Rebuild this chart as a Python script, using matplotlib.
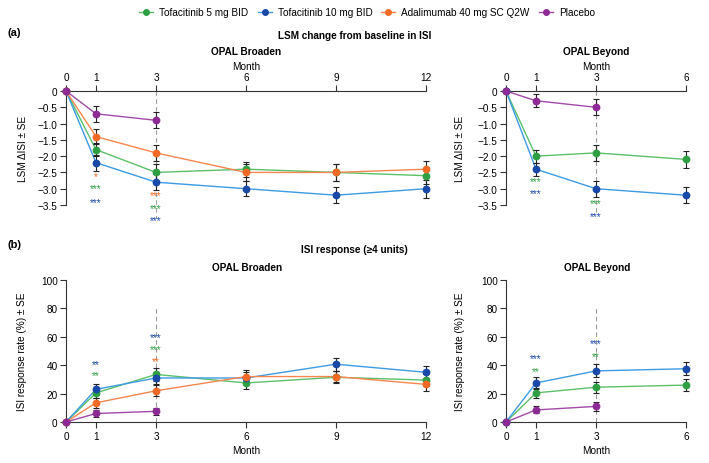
import matplotlib
matplotlib.use('Agg')
import matplotlib.pyplot as plt
from matplotlib.lines import Line2D

plt.rcParams['font.family'] = ['Liberation Sans', 'DejaVu Sans']
plt.rcParams['font.size'] = 7.2

# colours: marker / line
GREEN = '#2ea043'
GREEN_L = '#5cc06a'
BLUE = '#1848a8'
BLUE_L = '#3d9be3'
ORANGE = '#f26a26'
ORANGE_L = '#f7864d'
PURPLE = '#8e2a95'
PURPLE_L = '#a24aa8'

names = ['Tofacitinib 5 mg BID', 'Tofacitinib 10 mg BID', 'Adalimumab 40 mg SC Q2W', 'Placebo']

# (a) LSM change from baseline in ISI - OPAL Broaden
broaden_months = [0, 1, 3, 6, 9, 12]
broaden_pbo_months = [0, 1, 3]
lsm_b_t5 = [0, -1.8, -2.5, -2.4, -2.5, -2.6]
lsm_b_t5_se = [0, 0.2, 0.25, 0.23, 0.25, 0.25]
lsm_b_t10 = [0, -2.2, -2.8, -3.0, -3.2, -3.0]
lsm_b_t10_se = [0, 0.25, 0.25, 0.23, 0.25, 0.27]
lsm_b_ada = [0, -1.4, -1.9, -2.5, -2.5, -2.4]
lsm_b_ada_se = [0, 0.22, 0.25, 0.25, 0.25, 0.25]
lsm_b_pbo = [0, -0.7, -0.9]
lsm_b_pbo_se = [0, 0.25, 0.25]

# (a) OPAL Beyond
beyond_months = [0, 1, 3, 6]
beyond_pbo_months = [0, 1, 3]
lsm_y_t5 = [0, -2.0, -1.9, -2.1]
lsm_y_t5_se = [0, 0.2, 0.25, 0.25]
lsm_y_t10 = [0, -2.4, -3.0, -3.2]
lsm_y_t10_se = [0, 0.2, 0.25, 0.25]
lsm_y_pbo = [0, -0.3, -0.5]
lsm_y_pbo_se = [0, 0.2, 0.25]

# (b) ISI response rate (%) - OPAL Broaden
isi_b_t5 = [0, 20.5, 33.5, 27.5, 31.5, 29.5]
isi_b_t5_se = [0, 3.5, 4.5, 4.2, 4.2, 4.2]
isi_b_t10 = [0, 23, 31, 31, 40.7, 35]
isi_b_t10_se = [0, 4, 4.5, 4.5, 4.5, 4.5]
isi_b_ada = [0, 13.5, 22, 32, 32, 26.5]
isi_b_ada_se = [0, 3.5, 4, 4.5, 4, 4.5]
isi_b_pbo = [0, 6, 7.5]
isi_b_pbo_se = [0, 2.5, 2.5]

# (b) OPAL Beyond
isi_y_t5 = [0, 20.5, 24.5, 26]
isi_y_t5_se = [0, 3.5, 4, 4]
isi_y_t10 = [0, 27.5, 36, 37.5]
isi_y_t10_se = [0, 4.5, 4.5, 4.5]
isi_y_pbo = [0, 8.5, 11]
isi_y_pbo_se = [0, 2.5, 3]

# significance stars: (month, y, text, colour)
stars_a_broaden = [(1, -2.6, '*', ORANGE), (1, -2.98, '***', GREEN), (1, -3.4, '***', BLUE),
                   (3, -3.19, '***', ORANGE), (3, -3.59, '***', GREEN), (3, -3.96, '***', BLUE)]
stars_a_beyond = [(1, -2.76, '***', GREEN), (1, -3.13, '***', BLUE),
                  (3, -3.44, '***', GREEN), (3, -3.83, '***', BLUE)]
stars_b_broaden = [(1, 41, '**', BLUE), (1, 32.7, '**', GREEN),
                   (3, 60, '***', BLUE), (3, 51.4, '***', GREEN), (3, 42.8, '**', ORANGE)]
stars_b_beyond = [(1, 44.9, '***', BLUE), (1, 36, '**', GREEN),
                  (3, 55.4, '***', BLUE), (3, 46.7, '**', GREEN)]

W, H = 709, 464
fig = plt.figure(figsize=(W / 100, H / 100), dpi=100)


def pos(x0, x1, ytop, ybot):
    return [x0 / W, 1 - ybot / H, (x1 - x0) / W, (ybot - ytop) / H]


def series(ax, x, y, se, mc, lc):
    ax.plot(x, y, color=lc, lw=1.0, zorder=2)
    ax.errorbar(x, y, yerr=se, fmt='none', ecolor='#222222', elinewidth=0.8,
                capsize=2.5, capthick=0.8, zorder=3)
    ax.plot(x, y, 'o', color=mc, ms=4.6, mec=mc, zorder=4)


def stars(ax, lst):
    for m, y, s, c in lst:
        ax.text(m, y, s, color=c, fontsize=7.2, ha='center', va='center')


def style(ax, top):
    for side in ['right', 'top', 'bottom', 'left']:
        ax.spines[side].set_visible(False)
    ax.spines['left'].set_visible(True)
    ax.spines['top' if top else 'bottom'].set_visible(True)
    for side in ['left', 'top', 'bottom']:
        ax.spines[side].set_linewidth(0.8)
        ax.spines[side].set_color('#333333')
    if top:
        ax.xaxis.tick_top()
        ax.xaxis.set_label_position('top')
    ax.tick_params(axis='x', length=4, width=0.8, pad=2.5, color='#333333')
    ax.tick_params(axis='y', length=4, width=0.8, pad=2, color='#333333')
    ax.patch.set_visible(False)


def finish(ax):
    for art in ax.get_children():
        try:
            art.set_clip_on(False)
        except Exception:
            pass


lsm_ticks = [0, -0.5, -1.0, -1.5, -2.0, -2.5, -3.0, -3.5]
lsm_labels = ['0', '\u22120.5', '\u22121.0', '\u22121.5', '\u22122.0', '\u22122.5', '\u22123.0', '\u22123.5']

# ---- (a) Broaden
ax = fig.add_axes(pos(66, 426, 92, 206))
style(ax, True)
ax.plot([3, 3], [0, -3.9], ls=(0, (4, 3)), color='#9a9a9a', lw=0.8, zorder=1)
series(ax, broaden_months, lsm_b_t5, lsm_b_t5_se, GREEN, GREEN_L)
series(ax, broaden_months, lsm_b_t10, lsm_b_t10_se, BLUE, BLUE_L)
series(ax, broaden_months, lsm_b_ada, lsm_b_ada_se, ORANGE, ORANGE_L)
series(ax, broaden_pbo_months, lsm_b_pbo, lsm_b_pbo_se, PURPLE, PURPLE_L)
stars(ax, stars_a_broaden)
ax.set_xlim(0, 12)
ax.set_ylim(-3.5, 0)
ax.set_xticks(broaden_months)
ax.set_yticks(lsm_ticks)
ax.set_yticklabels(lsm_labels)
ax.set_xlabel('Month')
ax.xaxis.set_label_coords(0.5, (206 - 70) / 114)
ax.set_ylabel('LSM \u0394ISI \u00b1 SE')
ax.yaxis.set_label_coords((28 - 66) / 360, 0.5)
finish(ax)

# ---- (a) Beyond
ax = fig.add_axes(pos(506, 686, 92, 206))
style(ax, True)
ax.plot([3, 3], [0, -3.8], ls=(0, (4, 3)), color='#9a9a9a', lw=0.8, zorder=1)
series(ax, beyond_months, lsm_y_t5, lsm_y_t5_se, GREEN, GREEN_L)
series(ax, beyond_months, lsm_y_t10, lsm_y_t10_se, BLUE, BLUE_L)
series(ax, beyond_pbo_months, lsm_y_pbo, lsm_y_pbo_se, PURPLE, PURPLE_L)
stars(ax, stars_a_beyond)
ax.set_xlim(0, 6)
ax.set_ylim(-3.5, 0)
ax.set_xticks(beyond_months)
ax.set_yticks(lsm_ticks)
ax.set_yticklabels(lsm_labels)
ax.set_xlabel('Month')
ax.xaxis.set_label_coords(0.5, (206 - 70) / 114)
ax.set_ylabel('LSM \u0394ISI \u00b1 SE')
ax.yaxis.set_label_coords((465 - 506) / 180, 0.5)
finish(ax)

# ---- (b) Broaden
ax = fig.add_axes(pos(66, 426, 281, 423))
style(ax, False)
ax.plot([3, 3], [0, 80], ls=(0, (4, 3)), color='#9a9a9a', lw=0.8, zorder=1)
series(ax, broaden_months, isi_b_t5, isi_b_t5_se, GREEN, GREEN_L)
series(ax, broaden_months, isi_b_t10, isi_b_t10_se, BLUE, BLUE_L)
series(ax, broaden_months, isi_b_ada, isi_b_ada_se, ORANGE, ORANGE_L)
series(ax, broaden_pbo_months, isi_b_pbo, isi_b_pbo_se, PURPLE, PURPLE_L)
stars(ax, stars_b_broaden)
ax.set_xlim(0, 12)
ax.set_ylim(0, 100)
ax.set_xticks(broaden_months)
ax.set_yticks([0, 20, 40, 60, 80, 100])
ax.set_xlabel('Month')
ax.xaxis.set_label_coords(0.5, (423 - 446) / 142)
ax.set_ylabel('ISI response rate (%) \u00b1 SE')
ax.yaxis.set_label_coords((27 - 66) / 360, 0.5)
finish(ax)

# ---- (b) Beyond
ax = fig.add_axes(pos(506, 686, 281, 423))
style(ax, False)
ax.plot([3, 3], [0, 80], ls=(0, (4, 3)), color='#9a9a9a', lw=0.8, zorder=1)
series(ax, beyond_months, isi_y_t5, isi_y_t5_se, GREEN, GREEN_L)
series(ax, beyond_months, isi_y_t10, isi_y_t10_se, BLUE, BLUE_L)
series(ax, beyond_pbo_months, isi_y_pbo, isi_y_pbo_se, PURPLE, PURPLE_L)
stars(ax, stars_b_beyond)
ax.set_xlim(0, 6)
ax.set_ylim(0, 100)
ax.set_xticks(beyond_months)
ax.set_yticks([0, 20, 40, 60, 80, 100])
ax.set_xlabel('Month')
ax.xaxis.set_label_coords(0.5, (423 - 446) / 142)
ax.set_ylabel('ISI response rate (%) \u00b1 SE')
ax.yaxis.set_label_coords((465 - 506) / 180, 0.5)
finish(ax)

# titles
def ftext(x, y, s, **kw):
    fig.text(x / W, 1 - y / H, s, ha='center', va='center', **kw)

ftext(14, 33, '(a)', fontweight='bold', fontsize=8)
ftext(14, 245, '(b)', fontweight='bold', fontsize=8)
ftext(355, 36, 'LSM change from baseline in ISI', fontweight='bold')
ftext(246, 52, 'OPAL Broaden', fontweight='bold')
ftext(596, 52, 'OPAL Beyond', fontweight='bold')
ftext(354, 250, 'ISI response (\u22654 units)', fontweight='bold')
ftext(247, 268, 'OPAL Broaden', fontweight='bold')
ftext(597, 268, 'OPAL Beyond', fontweight='bold')

# legend
handles = [Line2D([], [], color=lc, lw=1.0, marker='o', ms=4, mfc=mc, mec=mc)
           for mc, lc in [(GREEN, GREEN_L), (BLUE, BLUE_L), (ORANGE, ORANGE_L), (PURPLE, PURPLE_L)]]
fig.legend(handles, names, loc='center', bbox_to_anchor=(367 / W, 1 - 13 / H), ncol=4,
           frameon=False, handlelength=1.4, handletextpad=0.6, columnspacing=0.9,
           fontsize=7.2)

fig.savefig('out.png', dpi=100)
